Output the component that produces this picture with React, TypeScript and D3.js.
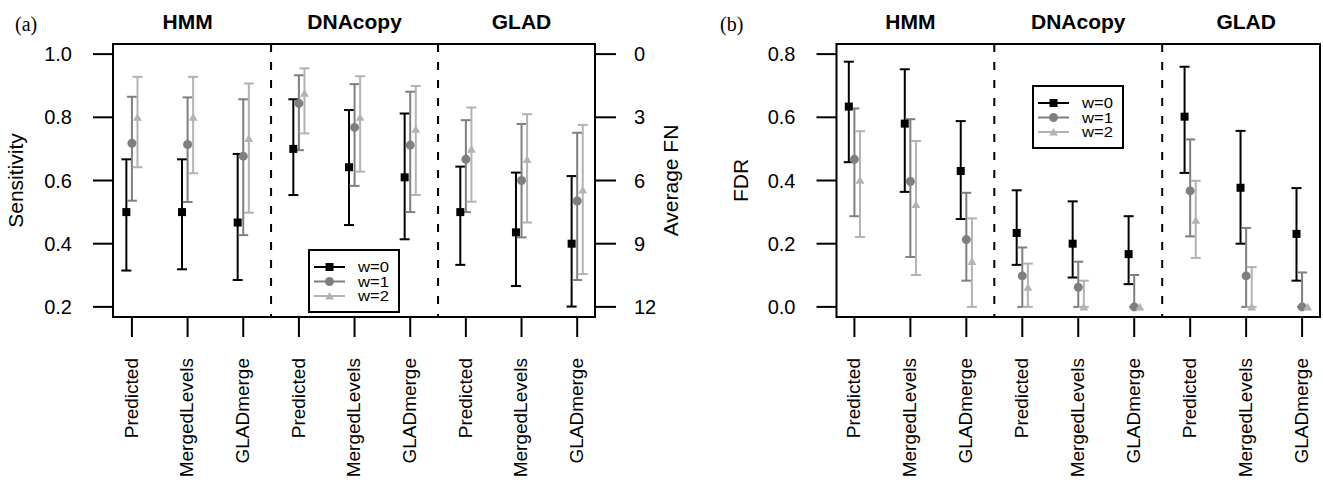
import React from 'react';
import * as d3 from 'd3';

// groups along the x axis
const methods = ['HMM', 'DNAcopy', 'GLAD'];
const categories = ['Predicted', 'MergedLevels', 'GLADmerge'];
const series = ['w=0', 'w=1', 'w=2'];

// panel (a): sensitivity, mean / lower / upper per w
const sensW0 = [0.5, 0.5, 0.467, 0.7, 0.642, 0.61, 0.5, 0.436, 0.4];
const sensW0Lo = [0.315, 0.319, 0.285, 0.554, 0.459, 0.414, 0.333, 0.266, 0.201];
const sensW0Hi = [0.667, 0.667, 0.684, 0.857, 0.823, 0.812, 0.644, 0.625, 0.614];
const sensW1 = [0.718, 0.714, 0.677, 0.844, 0.768, 0.712, 0.667, 0.6, 0.535];
const sensW1Lo = [0.536, 0.532, 0.427, 0.696, 0.583, 0.5, 0.5, 0.42, 0.285];
const sensW1Hi = [0.865, 0.863, 0.857, 0.933, 0.905, 0.881, 0.791, 0.779, 0.751];
const sensW2 = [0.8, 0.8, 0.733, 0.876, 0.8, 0.762, 0.699, 0.667, 0.57];
const sensW2Lo = [0.642, 0.623, 0.498, 0.749, 0.628, 0.554, 0.533, 0.467, 0.304];
const sensW2Hi = [0.928, 0.928, 0.907, 0.955, 0.93, 0.899, 0.831, 0.81, 0.776];

// panel (b): FDR
const fdrW0 = [0.634, 0.58, 0.43, 0.234, 0.2, 0.167, 0.602, 0.377, 0.231];
const fdrW0Lo = [0.458, 0.364, 0.278, 0.133, 0.093, 0.072, 0.424, 0.2, 0.083];
const fdrW0Hi = [0.776, 0.752, 0.588, 0.369, 0.334, 0.287, 0.76, 0.557, 0.376];
const fdrW1 = [0.467, 0.397, 0.213, 0.098, 0.062, 0, 0.367, 0.098, 0];
const fdrW1Lo = [0.287, 0.158, 0.083, 0, 0, 0, 0.223, 0, 0];
const fdrW1Hi = [0.628, 0.594, 0.361, 0.188, 0.143, 0.101, 0.53, 0.25, 0.109];
const fdrW2 = [0.401, 0.324, 0.144, 0.062, 0, 0, 0.274, 0, 0];
const fdrW2Lo = [0.221, 0.101, 0, 0, 0, 0, 0.155, 0, 0];
const fdrW2Hi = [0.556, 0.525, 0.28, 0.137, 0.083, 0, 0.399, 0.126, 0];

const sensTicks = [0.2, 0.4, 0.6, 0.8, 1.0];
const fnTicks = [0, 3, 6, 9, 12];
const fdrTicks = [0.0, 0.2, 0.4, 0.6, 0.8];

const colors = ['#000000', '#7f7f7f', '#b3b3b3'];
const offsets = [-0.1, 0, 0.1];
const FONT = '"Liberation Sans", Arial, Helvetica, sans-serif';

const top = 44, bottom = 317;

function Marker({ kind, x, y, color }) {
  if (kind === 0) return <rect x={x - 4} y={y - 4} width={8} height={8} fill={color} />;
  if (kind === 1) return <circle cx={x} cy={y} r={4.5} fill={color} />;
  const t = d3.symbol().type(d3.symbolTriangle).size(34)();
  return <path d={t} transform={`translate(${x},${y + 1})`} fill={color} />;
}

function Panel({ left, right, xDomain, y, yTicks, fmt, seriesData, label, labelX, ylab, ylabX, legend, rightAxis }) {
  const x = d3.scaleLinear().domain(xDomain).range([left, right]);
  const idx = d3.range(1, 10);
  return (
    <g fontFamily={FONT}>
      <text x={labelX} y={31} fontFamily='"Liberation Serif", "Times New Roman", serif' fontSize={20}>{label}</text>
      {methods.map((m, i) => (
        <text key={m} x={x(i * 3 + 2)} y={29} textAnchor="middle" fontWeight="bold" fontSize={21}>{m}</text>
      ))}
      {[3.5, 6.5].map(s => (
        <line key={s} x1={x(s)} x2={x(s)} y1={top} y2={bottom} stroke="#000" strokeWidth={2} strokeDasharray="8,10" />
      ))}
      {seriesData.map((sd, k) =>
        idx.map((g, j) => {
          const cx = x(g + offsets[k]);
          const lo = y(sd.lo[j]), hi = y(sd.hi[j]);
          if (sd.hi[j] === sd.lo[j]) return null;
          return (
            <g key={`${k}-${j}`} stroke={colors[k]} strokeWidth={2}>
              <line x1={cx} x2={cx} y1={lo} y2={hi} />
              <line x1={cx - 5} x2={cx + 5} y1={hi} y2={hi} />
              <line x1={cx - 5} x2={cx + 5} y1={lo} y2={lo} />
            </g>
          );
        })
      )}
      {seriesData.map((sd, k) =>
        idx.map((g, j) => <Marker key={`m${k}-${j}`} kind={k} x={x(g + offsets[k])} y={y(sd.mean[j])} color={colors[k]} />)
      )}
      <rect x={left} y={top} width={right - left} height={bottom - top} fill="none" stroke="#000" strokeWidth={2} />
      {yTicks.map(t => (
        <g key={t}>
          <line x1={left - 20} x2={left} y1={y(t)} y2={y(t)} stroke="#000" strokeWidth={2} />
          <text x={left - 41} y={y(t)} dy="0.35em" textAnchor="end" fontSize={20}>{fmt(t)}</text>
        </g>
      ))}
      <text transform={`translate(${ylabX},${(top + bottom) / 2}) rotate(-90)`} textAnchor="middle" fontSize={21}>{ylab}</text>
      {idx.map((g, j) => (
        <g key={`xt${g}`}>
          <line x1={x(g)} x2={x(g)} y1={bottom} y2={bottom + 20} stroke="#000" strokeWidth={2} />
          <text transform={`translate(${x(g)},358) rotate(-90)`} dy="0.3em" textAnchor="end" fontSize={19}>{categories[j % 3]}</text>
        </g>
      ))}
      {rightAxis}
      <g>
        <rect x={legend.x} y={legend.y} width={90} height={62} fill="#fff" stroke="#000" strokeWidth={2} />
        {series.map((s, k) => {
          const ry = legend.y + 17 + k * 14.5;
          return (
            <g key={s}>
              <line x1={legend.x + 5} x2={legend.x + 36} y1={ry} y2={ry} stroke={colors[k]} strokeWidth={2} />
              <Marker kind={k} x={legend.x + 20.5} y={ry} color={colors[k]} />
              <text x={legend.x + 49} y={ry} dy="0.36em" fontSize={14} textLength={31} lengthAdjust="spacingAndGlyphs">{s}</text>
            </g>
          );
        })}
      </g>
    </g>
  );
}

export default function App() {
  const ySens = d3.scaleLinear().domain([0.168, 1.032]).range([bottom, top]);
  const yFN = d3.scaleLinear().domain([12.48, -0.48]).range([bottom, top]);
  const yFdr = d3.scaleLinear().domain([-0.032, 0.832]).range([bottom, top]);

  const sensData = [
    { mean: sensW0, lo: sensW0Lo, hi: sensW0Hi },
    { mean: sensW1, lo: sensW1Lo, hi: sensW1Hi },
    { mean: sensW2, lo: sensW2Lo, hi: sensW2Hi },
  ];
  const fdrData = [
    { mean: fdrW0, lo: fdrW0Lo, hi: fdrW0Hi },
    { mean: fdrW1, lo: fdrW1Lo, hi: fdrW1Hi },
    { mean: fdrW2, lo: fdrW2Lo, hi: fdrW2Hi },
  ];
  const f1 = d3.format('.1f');

  const fnAxis = (
    <g fontFamily={FONT}>
      {fnTicks.map(t => (
        <g key={t}>
          <line x1={595} x2={616} y1={yFN(t)} y2={yFN(t)} stroke="#000" strokeWidth={2} />
          <text x={634} y={yFN(t)} dy="0.35em" fontSize={20}>{t}</text>
        </g>
      ))}
      <text transform={`translate(678,${(top + bottom) / 2}) rotate(-90)`} textAnchor="middle" fontSize={21}>Average FN</text>
    </g>
  );

  return (
    <div style={{ position: 'absolute', left: 0, top: 0 }}>
      <svg width={1323} height={483} style={{ display: 'block', background: '#fff' }}>
        <Panel left={113} right={595} xDomain={[0.66, 9.32]} y={ySens} yTicks={sensTicks} fmt={f1}
          seriesData={sensData} label="(a)" labelX={15} ylab="Sensitivity" ylabX={23}
          legend={{ x: 309, y: 250 }} rightAxis={fnAxis} />
        <Panel left={836.5} right={1320} xDomain={[0.68, 9.32]} y={yFdr} yTicks={fdrTicks} fmt={f1}
          seriesData={fdrData} label="(b)" labelX={720} ylab="FDR" ylabX={748}
          legend={{ x: 1033, y: 86 }} rightAxis={null} />
      </svg>
    </div>
  );
}
